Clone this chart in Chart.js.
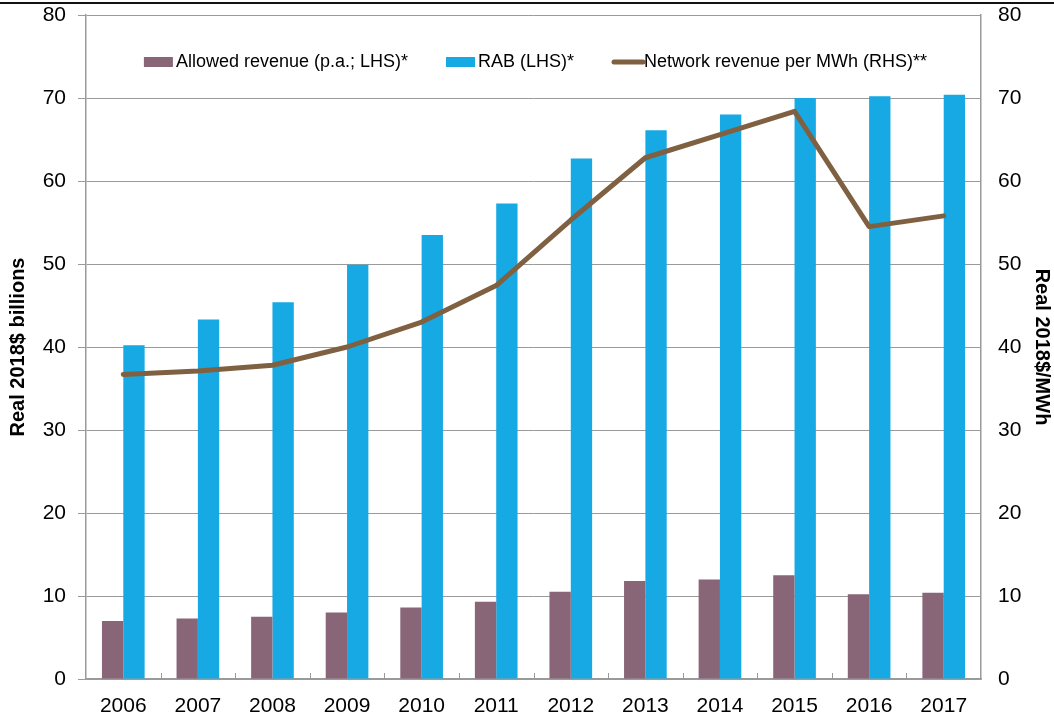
<!DOCTYPE html>
<html>
<head>
<meta charset="utf-8">
<script src="https://cdn.jsdelivr.net/npm/chart.js@4/dist/chart.umd.min.js"></script>
<style>
  body { margin: 0; background: #fff; }
  #wrap { position: relative; width: 1054px; height: 719px; }
  #topline { position: absolute; left: 0; top: 2px; width: 1054px; height: 2px; background: #111; }
</style>
</head>
<body>
<div id="wrap">
  <canvas id="chart" width="1054" height="719"></canvas>
  <div id="topline"></div>
</div>
<script>
const years = ["2006","2007","2008","2009","2010","2011","2012","2013","2014","2015","2016","2017"]
const allowedRevenue = [7.0, 7.3, 7.5, 8.0, 8.6, 9.3, 10.5, 11.8, 12.0, 12.5, 10.2, 10.4]
const rab = [40.2, 43.3, 45.4, 49.9, 53.5, 57.3, 62.7, 66.1, 68.0, 70.0, 70.2, 70.4]
const networkRevenue = [36.7, 37.1, 37.8, 40.0, 43.0, 47.4, 55.3, 62.8, 65.6, 68.4, 54.5, 55.8]

const purple = "#886677"
const blue = "#17a9e3"
const brown = "#7f6142"
const axisGrey = "#9a9a9a"
const fontFamily = "Liberation Sans, Arial, sans-serif"

// small tick marks between the years, pointing up into the plot
const xTicks = {
    id: "xTicks",
    afterDatasetsDraw(chart){
        const x = chart.scales.x
        const ctx = chart.ctx
        const bottom = chart.chartArea.bottom
        ctx.save()
        ctx.strokeStyle = axisGrey
        ctx.lineWidth = 1
        for (let i = 1; i < years.length; i++){
            let px = Math.round((x.getPixelForValue(i - 1) + x.getPixelForValue(i)) / 2) + 0.5
            ctx.beginPath()
            ctx.moveTo(px, bottom)
            ctx.lineTo(px, bottom - 6)
            ctx.stroke()
        }
        ctx.restore()
    }
}

// legend sits inside the plot, one row, near the top
const innerLegend = {
    id: "innerLegend",
    afterDraw(chart){
        const ctx = chart.ctx
        const area = chart.chartArea
        const y = area.top + 47
        const boxW = 29, boxH = 10, gap = 3, itemGap = 38
        ctx.save()
        ctx.font = "18px " + fontFamily
        ctx.textBaseline = "middle"
        const items = chart.data.datasets.map(ds => ({
            text: ds.label,
            color: ds.type == "line" ? ds.borderColor : ds.backgroundColor,
            isLine: ds.type == "line",
            w: ctx.measureText(ds.label).width
        }))
        let total = 0
        items.forEach((it, i) => { total += boxW + gap + it.w + (i > 0 ? itemGap : 0) })
        let x = (area.left + area.right) / 2 - total / 2 + 2
        items.forEach(it => {
            if (it.isLine){
                ctx.strokeStyle = it.color
                ctx.lineWidth = 5
                ctx.lineCap = "round"
                ctx.beginPath()
                ctx.moveTo(x + 2, y)
                ctx.lineTo(x + boxW + 2, y)
                ctx.stroke()
            } else {
                ctx.fillStyle = it.color
                ctx.fillRect(x, y - boxH / 2, boxW, boxH)
            }
            x += boxW + gap
            ctx.fillStyle = "#000"
            ctx.fillText(it.text, x, y)
            x += it.w + itemGap
        })
        ctx.restore()
    }
}

// keep the plot edges fixed, no extra room for half tick labels
const fixPadding = (scale, width) => {
    scale.width = width
    scale.paddingTop = 0
    scale.paddingBottom = 0
}

const ctx = document.getElementById("chart").getContext("2d")
const myChart = new Chart(ctx, {
    type: "bar",
    data: {
        labels: years,
        datasets: [
            {
                label: "Allowed revenue (p.a.; LHS)*",
                data: allowedRevenue,
                backgroundColor: purple,
                borderWidth: 0,
                yAxisID: "y",
                order: 1
            },
            {
                label: "RAB (LHS)*",
                data: rab,
                backgroundColor: blue,
                borderWidth: 0,
                yAxisID: "y",
                order: 1
            },
            {
                type: "line",
                label: "Network revenue per MWh (RHS)**",
                data: networkRevenue,
                borderColor: brown,
                backgroundColor: brown,
                borderWidth: 5,
                borderJoinStyle: "round",
                borderCapStyle: "round",
                pointRadius: 0,
                tension: 0,
                yAxisID: "y1",
                order: 0
            }
        ]
    },
    options: {
        responsive: false,
        animation: false,
        datasets: {
            bar: { categoryPercentage: 0.572, barPercentage: 1 }
        },
        layout: { padding: { top: 15, left: 0, right: 0, bottom: 0 } },
        plugins: {
            tooltip: { enabled: false },
            legend: { display: false }
        },
        scales: {
            x: {
                grid: { display: false },
                border: { color: axisGrey, width: 1.5 },
                ticks: {
                    color: "#000",
                    padding: 7,
                    font: { family: fontFamily, size: 21 }
                },
                afterFit: (scale) => { scale.height = 40 }
            },
            y: {
                position: "left",
                min: 0,
                max: 80,
                grid: { color: axisGrey, tickLength: 8, lineWidth: 1 },
                border: { color: axisGrey, width: 1.5 },
                ticks: {
                    stepSize: 10,
                    color: "#000",
                    padding: 12,
                    font: { family: fontFamily, size: 21 }
                },
                title: {
                    display: true,
                    text: "Real 2018$ billions",
                    color: "#000",
                    padding: { top: 6, bottom: 0 },
                    font: { family: fontFamily, size: 20, weight: "bold" }
                },
                afterFit: (scale) => fixPadding(scale, 86)
            },
            y1: {
                position: "right",
                min: 0,
                max: 80,
                grid: { drawOnChartArea: false, drawTicks: false },
                border: { color: axisGrey, width: 1.5 },
                ticks: {
                    stepSize: 10,
                    color: "#000",
                    padding: 17,
                    font: { family: fontFamily, size: 21 }
                },
                title: {
                    display: true,
                    text: "Real 2018$/MWh",
                    color: "#000",
                    padding: 0,
                    font: { family: fontFamily, size: 20, weight: "bold" }
                },
                afterFit: (scale) => fixPadding(scale, 73)
            }
        }
    },
    plugins: [xTicks, innerLegend]
})
</script>
</body>
</html>
